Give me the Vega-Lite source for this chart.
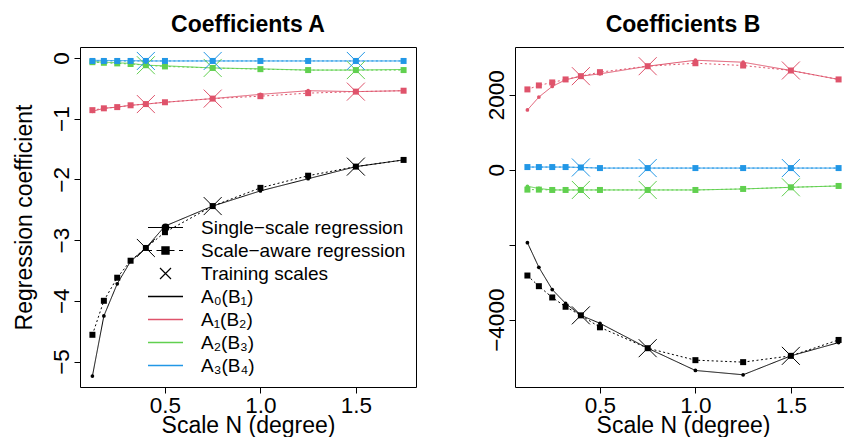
{
  "$schema": "https://vega.github.io/schema/vega-lite/v6.json",
  "padding": {"left": 12, "top": 13, "right": 0, "bottom": 0},
  "bounds": "flush",
  "spacing": 99,
  "datasets": {
    "A": [
      {"s":"A₀(B₁)","m":"single","x":0.12,"y":-5.24},{"s":"A₀(B₁)","m":"single","x":0.18,"y":-4.25},{"s":"A₀(B₁)","m":"single","x":0.25,"y":-3.72},{"s":"A₀(B₁)","m":"single","x":0.32,"y":-3.35},{"s":"A₀(B₁)","m":"single","x":0.4,"y":-3.13},{"s":"A₀(B₁)","m":"single","x":0.5,"y":-2.77},{"s":"A₀(B₁)","m":"single","x":0.75,"y":-2.44},{"s":"A₀(B₁)","m":"single","x":1.0,"y":-2.19},{"s":"A₀(B₁)","m":"single","x":1.25,"y":-1.99},{"s":"A₀(B₁)","m":"single","x":1.5,"y":-1.79},{"s":"A₀(B₁)","m":"single","x":1.75,"y":-1.68},
      {"s":"A₀(B₁)","m":"aware","x":0.12,"y":-4.56},{"s":"A₀(B₁)","m":"aware","x":0.18,"y":-4.0},{"s":"A₀(B₁)","m":"aware","x":0.25,"y":-3.62},{"s":"A₀(B₁)","m":"aware","x":0.32,"y":-3.34},{"s":"A₀(B₁)","m":"aware","x":0.4,"y":-3.13},{"s":"A₀(B₁)","m":"aware","x":0.5,"y":-2.87},{"s":"A₀(B₁)","m":"aware","x":0.75,"y":-2.44},{"s":"A₀(B₁)","m":"aware","x":1.0,"y":-2.14},{"s":"A₀(B₁)","m":"aware","x":1.25,"y":-1.94},{"s":"A₀(B₁)","m":"aware","x":1.5,"y":-1.79},{"s":"A₀(B₁)","m":"aware","x":1.75,"y":-1.68},
      {"s":"A₁(B₂)","m":"single","x":0.12,"y":-0.88},{"s":"A₁(B₂)","m":"single","x":0.18,"y":-0.83},{"s":"A₁(B₂)","m":"single","x":0.25,"y":-0.81},{"s":"A₁(B₂)","m":"single","x":0.32,"y":-0.78},{"s":"A₁(B₂)","m":"single","x":0.4,"y":-0.76},{"s":"A₁(B₂)","m":"single","x":0.5,"y":-0.73},{"s":"A₁(B₂)","m":"single","x":0.75,"y":-0.67},{"s":"A₁(B₂)","m":"single","x":1.0,"y":-0.6},{"s":"A₁(B₂)","m":"single","x":1.25,"y":-0.54},{"s":"A₁(B₂)","m":"single","x":1.5,"y":-0.555},{"s":"A₁(B₂)","m":"single","x":1.75,"y":-0.54},
      {"s":"A₁(B₂)","m":"aware","x":0.12,"y":-0.86},{"s":"A₁(B₂)","m":"aware","x":0.18,"y":-0.83},{"s":"A₁(B₂)","m":"aware","x":0.25,"y":-0.81},{"s":"A₁(B₂)","m":"aware","x":0.32,"y":-0.78},{"s":"A₁(B₂)","m":"aware","x":0.4,"y":-0.76},{"s":"A₁(B₂)","m":"aware","x":0.5,"y":-0.73},{"s":"A₁(B₂)","m":"aware","x":0.75,"y":-0.67},{"s":"A₁(B₂)","m":"aware","x":1.0,"y":-0.63},{"s":"A₁(B₂)","m":"aware","x":1.25,"y":-0.58},{"s":"A₁(B₂)","m":"aware","x":1.5,"y":-0.555},{"s":"A₁(B₂)","m":"aware","x":1.75,"y":-0.54},
      {"s":"A₂(B₃)","m":"single","x":0.12,"y":-0.06},{"s":"A₂(B₃)","m":"single","x":0.18,"y":-0.07},{"s":"A₂(B₃)","m":"single","x":0.25,"y":-0.08},{"s":"A₂(B₃)","m":"single","x":0.32,"y":-0.09},{"s":"A₂(B₃)","m":"single","x":0.4,"y":-0.12},{"s":"A₂(B₃)","m":"single","x":0.5,"y":-0.13},{"s":"A₂(B₃)","m":"single","x":0.75,"y":-0.165},{"s":"A₂(B₃)","m":"single","x":1.0,"y":-0.18},{"s":"A₂(B₃)","m":"single","x":1.25,"y":-0.2},{"s":"A₂(B₃)","m":"single","x":1.5,"y":-0.2},{"s":"A₂(B₃)","m":"single","x":1.75,"y":-0.19},
      {"s":"A₂(B₃)","m":"aware","x":0.12,"y":-0.07},{"s":"A₂(B₃)","m":"aware","x":0.18,"y":-0.08},{"s":"A₂(B₃)","m":"aware","x":0.25,"y":-0.09},{"s":"A₂(B₃)","m":"aware","x":0.32,"y":-0.1},{"s":"A₂(B₃)","m":"aware","x":0.4,"y":-0.12},{"s":"A₂(B₃)","m":"aware","x":0.5,"y":-0.14},{"s":"A₂(B₃)","m":"aware","x":0.75,"y":-0.165},{"s":"A₂(B₃)","m":"aware","x":1.0,"y":-0.185},{"s":"A₂(B₃)","m":"aware","x":1.25,"y":-0.2},{"s":"A₂(B₃)","m":"aware","x":1.5,"y":-0.2},{"s":"A₂(B₃)","m":"aware","x":1.75,"y":-0.2},
      {"s":"A₃(B₄)","m":"single","x":0.12,"y":-0.04},{"s":"A₃(B₄)","m":"single","x":0.18,"y":-0.04},{"s":"A₃(B₄)","m":"single","x":0.25,"y":-0.045},{"s":"A₃(B₄)","m":"single","x":0.32,"y":-0.045},{"s":"A₃(B₄)","m":"single","x":0.4,"y":-0.05},{"s":"A₃(B₄)","m":"single","x":0.5,"y":-0.05},{"s":"A₃(B₄)","m":"single","x":0.75,"y":-0.05},{"s":"A₃(B₄)","m":"single","x":1.0,"y":-0.05},{"s":"A₃(B₄)","m":"single","x":1.25,"y":-0.05},{"s":"A₃(B₄)","m":"single","x":1.5,"y":-0.05},{"s":"A₃(B₄)","m":"single","x":1.75,"y":-0.05},
      {"s":"A₃(B₄)","m":"aware","x":0.12,"y":-0.05},{"s":"A₃(B₄)","m":"aware","x":0.18,"y":-0.05},{"s":"A₃(B₄)","m":"aware","x":0.25,"y":-0.05},{"s":"A₃(B₄)","m":"aware","x":0.32,"y":-0.05},{"s":"A₃(B₄)","m":"aware","x":0.4,"y":-0.05},{"s":"A₃(B₄)","m":"aware","x":0.5,"y":-0.05},{"s":"A₃(B₄)","m":"aware","x":0.75,"y":-0.05},{"s":"A₃(B₄)","m":"aware","x":1.0,"y":-0.05},{"s":"A₃(B₄)","m":"aware","x":1.25,"y":-0.05},{"s":"A₃(B₄)","m":"aware","x":1.5,"y":-0.05},{"s":"A₃(B₄)","m":"aware","x":1.75,"y":-0.05},
      {"s":"A₀(B₁)","m":"train","x":0.4,"y":-3.13},{"s":"A₀(B₁)","m":"train","x":0.75,"y":-2.44},{"s":"A₀(B₁)","m":"train","x":1.5,"y":-1.79},
      {"s":"A₁(B₂)","m":"train","x":0.4,"y":-0.76},{"s":"A₁(B₂)","m":"train","x":0.75,"y":-0.67},{"s":"A₁(B₂)","m":"train","x":1.5,"y":-0.555},
      {"s":"A₂(B₃)","m":"train","x":0.4,"y":-0.12},{"s":"A₂(B₃)","m":"train","x":0.75,"y":-0.165},{"s":"A₂(B₃)","m":"train","x":1.5,"y":-0.2},
      {"s":"A₃(B₄)","m":"train","x":0.4,"y":-0.05},{"s":"A₃(B₄)","m":"train","x":0.75,"y":-0.05},{"s":"A₃(B₄)","m":"train","x":1.5,"y":-0.05}
    ],
    "B": [
      {"s":"A₀(B₁)","m":"single","x":0.12,"y":-1946},{"s":"A₀(B₁)","m":"single","x":0.18,"y":-2602},{"s":"A₀(B₁)","m":"single","x":0.25,"y":-3195},{"s":"A₀(B₁)","m":"single","x":0.32,"y":-3566},{"s":"A₀(B₁)","m":"single","x":0.4,"y":-3884},{"s":"A₀(B₁)","m":"single","x":0.5,"y":-4096},{"s":"A₀(B₁)","m":"single","x":0.75,"y":-4760},{"s":"A₀(B₁)","m":"single","x":1.0,"y":-5354},{"s":"A₀(B₁)","m":"single","x":1.25,"y":-5469},{"s":"A₀(B₁)","m":"single","x":1.5,"y":-4964},{"s":"A₀(B₁)","m":"single","x":1.75,"y":-4611},
      {"s":"A₀(B₁)","m":"aware","x":0.12,"y":-2822},{"s":"A₀(B₁)","m":"aware","x":0.18,"y":-3106},{"s":"A₀(B₁)","m":"aware","x":0.25,"y":-3407},{"s":"A₀(B₁)","m":"aware","x":0.32,"y":-3655},{"s":"A₀(B₁)","m":"aware","x":0.4,"y":-3884},{"s":"A₀(B₁)","m":"aware","x":0.5,"y":-4203},{"s":"A₀(B₁)","m":"aware","x":0.75,"y":-4760},{"s":"A₀(B₁)","m":"aware","x":1.0,"y":-5079},{"s":"A₀(B₁)","m":"aware","x":1.25,"y":-5132},{"s":"A₀(B₁)","m":"aware","x":1.5,"y":-4964},{"s":"A₀(B₁)","m":"aware","x":1.75,"y":-4540},
      {"s":"A₁(B₂)","m":"single","x":0.12,"y":1593},{"s":"A₁(B₂)","m":"single","x":0.18,"y":1938},{"s":"A₁(B₂)","m":"single","x":0.25,"y":2222},{"s":"A₁(B₂)","m":"single","x":0.32,"y":2398},{"s":"A₁(B₂)","m":"single","x":0.4,"y":2495},{"s":"A₁(B₂)","m":"single","x":0.5,"y":2557},{"s":"A₁(B₂)","m":"single","x":0.75,"y":2761},{"s":"A₁(B₂)","m":"single","x":1.0,"y":2920},{"s":"A₁(B₂)","m":"single","x":1.25,"y":2867},{"s":"A₁(B₂)","m":"single","x":1.5,"y":2646},{"s":"A₁(B₂)","m":"single","x":1.75,"y":2408},
      {"s":"A₁(B₂)","m":"aware","x":0.12,"y":2142},{"s":"A₁(B₂)","m":"aware","x":0.18,"y":2248},{"s":"A₁(B₂)","m":"aware","x":0.25,"y":2328},{"s":"A₁(B₂)","m":"aware","x":0.32,"y":2408},{"s":"A₁(B₂)","m":"aware","x":0.4,"y":2495},{"s":"A₁(B₂)","m":"aware","x":0.5,"y":2602},{"s":"A₁(B₂)","m":"aware","x":0.75,"y":2761},{"s":"A₁(B₂)","m":"aware","x":1.0,"y":2840},{"s":"A₁(B₂)","m":"aware","x":1.25,"y":2779},{"s":"A₁(B₂)","m":"aware","x":1.5,"y":2646},{"s":"A₁(B₂)","m":"aware","x":1.75,"y":2408},
      {"s":"A₂(B₃)","m":"single","x":0.12,"y":-442},{"s":"A₂(B₃)","m":"single","x":0.18,"y":-500},{"s":"A₂(B₃)","m":"single","x":0.25,"y":-540},{"s":"A₂(B₃)","m":"single","x":0.32,"y":-540},{"s":"A₂(B₃)","m":"single","x":0.4,"y":-540},{"s":"A₂(B₃)","m":"single","x":0.5,"y":-540},{"s":"A₂(B₃)","m":"single","x":0.75,"y":-540},{"s":"A₂(B₃)","m":"single","x":1.0,"y":-540},{"s":"A₂(B₃)","m":"single","x":1.25,"y":-513},{"s":"A₂(B₃)","m":"single","x":1.5,"y":-469},{"s":"A₂(B₃)","m":"single","x":1.75,"y":-433},
      {"s":"A₂(B₃)","m":"aware","x":0.12,"y":-531},{"s":"A₂(B₃)","m":"aware","x":0.18,"y":-531},{"s":"A₂(B₃)","m":"aware","x":0.25,"y":-540},{"s":"A₂(B₃)","m":"aware","x":0.32,"y":-540},{"s":"A₂(B₃)","m":"aware","x":0.4,"y":-540},{"s":"A₂(B₃)","m":"aware","x":0.5,"y":-540},{"s":"A₂(B₃)","m":"aware","x":0.75,"y":-540},{"s":"A₂(B₃)","m":"aware","x":1.0,"y":-540},{"s":"A₂(B₃)","m":"aware","x":1.25,"y":-513},{"s":"A₂(B₃)","m":"aware","x":1.5,"y":-469},{"s":"A₂(B₃)","m":"aware","x":1.75,"y":-433},
      {"s":"A₃(B₄)","m":"single","x":0.12,"y":71},{"s":"A₃(B₄)","m":"single","x":0.18,"y":71},{"s":"A₃(B₄)","m":"single","x":0.25,"y":71},{"s":"A₃(B₄)","m":"single","x":0.32,"y":71},{"s":"A₃(B₄)","m":"single","x":0.4,"y":60},{"s":"A₃(B₄)","m":"single","x":0.5,"y":44},{"s":"A₃(B₄)","m":"single","x":0.75,"y":44},{"s":"A₃(B₄)","m":"single","x":1.0,"y":44},{"s":"A₃(B₄)","m":"single","x":1.25,"y":44},{"s":"A₃(B₄)","m":"single","x":1.5,"y":44},{"s":"A₃(B₄)","m":"single","x":1.75,"y":44},
      {"s":"A₃(B₄)","m":"aware","x":0.12,"y":71},{"s":"A₃(B₄)","m":"aware","x":0.18,"y":71},{"s":"A₃(B₄)","m":"aware","x":0.25,"y":71},{"s":"A₃(B₄)","m":"aware","x":0.32,"y":71},{"s":"A₃(B₄)","m":"aware","x":0.4,"y":60},{"s":"A₃(B₄)","m":"aware","x":0.5,"y":44},{"s":"A₃(B₄)","m":"aware","x":0.75,"y":44},{"s":"A₃(B₄)","m":"aware","x":1.0,"y":44},{"s":"A₃(B₄)","m":"aware","x":1.25,"y":44},{"s":"A₃(B₄)","m":"aware","x":1.5,"y":44},{"s":"A₃(B₄)","m":"aware","x":1.75,"y":44},
      {"s":"A₀(B₁)","m":"train","x":0.4,"y":-3884},{"s":"A₀(B₁)","m":"train","x":0.75,"y":-4760},{"s":"A₀(B₁)","m":"train","x":1.5,"y":-4964},
      {"s":"A₁(B₂)","m":"train","x":0.4,"y":2495},{"s":"A₁(B₂)","m":"train","x":0.75,"y":2761},{"s":"A₁(B₂)","m":"train","x":1.5,"y":2646},
      {"s":"A₂(B₃)","m":"train","x":0.4,"y":-540},{"s":"A₂(B₃)","m":"train","x":0.75,"y":-540},{"s":"A₂(B₃)","m":"train","x":1.5,"y":-469},
      {"s":"A₃(B₄)","m":"train","x":0.4,"y":60},{"s":"A₃(B₄)","m":"train","x":0.75,"y":44},{"s":"A₃(B₄)","m":"train","x":1.5,"y":44}
    ]
  },
  "hconcat": [
    {
      "title": {"text": "Coefficients A"},
      "width": 336,
      "height": 340,
      "data": {"name": "A"},
      "encoding": {
        "x": {"field": "x", "type": "quantitative", "scale": {"domain": [0.055, 1.815], "nice": false, "zero": false},
              "axis": {"title": "Scale N (degree)", "values": [0.5, 1, 1.5], "format": ".1f", "labelPadding": 1, "titlePadding": -2}},
        "y": {"field": "y", "type": "quantitative", "scale": {"domain": [-5.42, 0.18], "nice": false, "zero": false},
              "axis": {"title": "Regression coefficient", "values": [-5, -4, -3, -2, -1, 0], "format": "d", "labelAngle": 270, "labelAlign": "center", "labelBaseline": "alphabetic", "labelPadding": 6, "titlePadding": 14}}
      },
      "layer": [
        {
          "transform": [{"filter": "datum.m != 'train'"}],
          "mark": {"type": "line", "strokeWidth": 1},
          "encoding": {
            "color": {"field": "s", "type": "nominal",
                      "scale": {"domain": ["A₀(B₁)", "A₁(B₂)", "A₂(B₃)", "A₃(B₄)"], "range": ["#000000", "#DF536B", "#61D04F", "#2297E6"]},
                      "legend": {"orient": "none", "legendX": 74.5, "legendY": 238.5, "title": null, "symbolType": "M-1.75,0H1.75", "symbolSize": 400, "symbolStrokeWidth": 1.3, "labelOffset": 24.5, "rowPadding": 2, "padding": 0, "labelFontSize": 19, "labelColor": "black", "labelLimit": 400}},
            "strokeDash": {"field": "m", "type": "nominal", "scale": {"domain": ["single", "aware"], "range": [[1, 0], [2, 2.5]]}, "legend": null}
          }
        },
        {
          "transform": [{"filter": "datum.m == 'single'"}],
          "mark": {"type": "point", "shape": "circle", "filled": true, "size": 14, "opacity": 1},
          "encoding": {
            "color": {"field": "s", "type": "nominal", "scale": {"domain": ["A₀(B₁)", "A₁(B₂)", "A₂(B₃)", "A₃(B₄)"], "range": ["#000000", "#DF536B", "#61D04F", "#2297E6"]}, "legend": null}
          }
        },
        {
          "transform": [{"filter": "datum.m == 'aware'"}],
          "mark": {"type": "point", "shape": "square", "filled": true, "size": 36, "opacity": 1},
          "encoding": {
            "color": {"field": "s", "type": "nominal", "scale": {"domain": ["A₀(B₁)", "A₁(B₂)", "A₂(B₃)", "A₃(B₄)"], "range": ["#000000", "#DF536B", "#61D04F", "#2297E6"]}, "legend": null}
          }
        },
        {
          "transform": [{"filter": "datum.m == 'train'"}],
          "mark": {"type": "point", "shape": "M-1,-1L1,1M-1,1L1,-1", "filled": false, "size": 324, "strokeWidth": 1, "opacity": 1},
          "encoding": {
            "color": {"field": "s", "type": "nominal", "scale": {"domain": ["A₀(B₁)", "A₁(B₂)", "A₂(B₃)", "A₃(B₄)"], "range": ["#000000", "#DF536B", "#61D04F", "#2297E6"]}, "legend": null}
          }
        },
        {
          "transform": [{"filter": "datum.m == 'legendonly'"}],
          "mark": {"type": "point", "filled": false, "color": "black", "stroke": "black", "strokeWidth": 1.2, "size": 400, "opacity": 1},
          "encoding": {
            "shape": {"field": "m", "type": "nominal",
                      "scale": {"domain": ["single", "aware", "train"],
                                "range": ["M-1.75,0H1.75M0.33,0A0.33,0.33 0 1 1 -0.33,0A0.33,0.33 0 1 1 0.33,0M0.22,0A0.22,0.22 0 1 1 -0.22,0A0.22,0.22 0 1 1 0.22,0M0.11,0A0.11,0.11 0 1 1 -0.11,0A0.11,0.11 0 1 1 0.11,0",
                                          "M-1.75,0H-1.35M-0.9,0H0.9M1.35,0H1.75M-0.36,-0.36H0.36V0.36H-0.36ZM-0.25,-0.25H0.25V0.25H-0.25ZM-0.14,-0.14H0.14V0.14H-0.14ZM-0.04,-0.04H0.04V0.04H-0.04Z",
                                          "M-0.55,-0.55L0.55,0.55M-0.55,0.55L0.55,-0.55"]},
                      "legend": {"orient": "none", "legendX": 74.5, "legendY": 169.5, "title": null, "symbolSize": 400, "symbolStrokeWidth": 1.2, "symbolStrokeColor": "black", "symbolOpacity": 1, "labelOffset": 24.5, "rowPadding": 2, "padding": 0, "labelFontSize": 19, "labelColor": "black", "labelLimit": 400,
                                 "labelExpr": "datum.value == 'single' ? 'Single−scale regression' : datum.value == 'aware' ? 'Scale−aware regression' : 'Training scales'"}}
          }
        }
      ]
    },
    {
      "title": {"text": "Coefficients B"},
      "width": 336,
      "height": 340,
      "data": {"name": "B"},
      "encoding": {
        "x": {"field": "x", "type": "quantitative", "scale": {"domain": [0.055, 1.815], "nice": false, "zero": false},
              "axis": {"title": "Scale N (degree)", "values": [0.5, 1, 1.5], "format": ".1f", "labelPadding": 1, "titlePadding": -2}},
        "y": {"field": "y", "type": "quantitative", "scale": {"domain": [-5795, 3273], "nice": false, "zero": false},
              "axis": {"title": null, "values": [-4000, -2000, 0, 2000], "format": "d", "labelExpr": "datum.value == -2000 ? '' : datum.label", "labelAngle": 270, "labelAlign": "center", "labelBaseline": "alphabetic", "labelPadding": 6}}
      },
      "layer": [
        {
          "transform": [{"filter": "datum.m != 'train'"}],
          "mark": {"type": "line", "strokeWidth": 1},
          "encoding": {
            "color": {"field": "s", "type": "nominal", "scale": {"domain": ["A₀(B₁)", "A₁(B₂)", "A₂(B₃)", "A₃(B₄)"], "range": ["#000000", "#DF536B", "#61D04F", "#2297E6"]}, "legend": null},
            "strokeDash": {"field": "m", "type": "nominal", "scale": {"domain": ["single", "aware"], "range": [[1, 0], [2, 2.5]]}, "legend": null}
          }
        },
        {
          "transform": [{"filter": "datum.m == 'single'"}],
          "mark": {"type": "point", "shape": "circle", "filled": true, "size": 14, "opacity": 1},
          "encoding": {
            "color": {"field": "s", "type": "nominal", "scale": {"domain": ["A₀(B₁)", "A₁(B₂)", "A₂(B₃)", "A₃(B₄)"], "range": ["#000000", "#DF536B", "#61D04F", "#2297E6"]}, "legend": null}
          }
        },
        {
          "transform": [{"filter": "datum.m == 'aware'"}],
          "mark": {"type": "point", "shape": "square", "filled": true, "size": 36, "opacity": 1},
          "encoding": {
            "color": {"field": "s", "type": "nominal", "scale": {"domain": ["A₀(B₁)", "A₁(B₂)", "A₂(B₃)", "A₃(B₄)"], "range": ["#000000", "#DF536B", "#61D04F", "#2297E6"]}, "legend": null}
          }
        },
        {
          "transform": [{"filter": "datum.m == 'train'"}],
          "mark": {"type": "point", "shape": "M-1,-1L1,1M-1,1L1,-1", "filled": false, "size": 324, "strokeWidth": 1, "opacity": 1},
          "encoding": {
            "color": {"field": "s", "type": "nominal", "scale": {"domain": ["A₀(B₁)", "A₁(B₂)", "A₂(B₃)", "A₃(B₄)"], "range": ["#000000", "#DF536B", "#61D04F", "#2297E6"]}, "legend": null}
          }
        }
      ]
    }
  ],
  "resolve": {
    "scale": {"color": "independent", "shape": "independent", "strokeDash": "independent"},
    "legend": {"color": "independent", "shape": "independent"}
  },
  "config": {
    "font": "Liberation Sans",
    "background": "white",
    "view": {"stroke": "black", "strokeWidth": 1},
    "title": {"fontSize": 23, "fontWeight": "bold", "color": "black", "offset": 10, "baseline": "alphabetic"},
    "axis": {"domain": false, "grid": false, "ticks": true, "tickColor": "black", "tickSize": 6, "tickWidth": 1,
             "labelColor": "black", "labelFontSize": 22.5, "titleFontSize": 23, "titleFontWeight": "normal", "titleColor": "black", "labelFlush": false, "labelOverlap": false},
    "legend": {"labelFont": "Liberation Sans"}
  }
}
